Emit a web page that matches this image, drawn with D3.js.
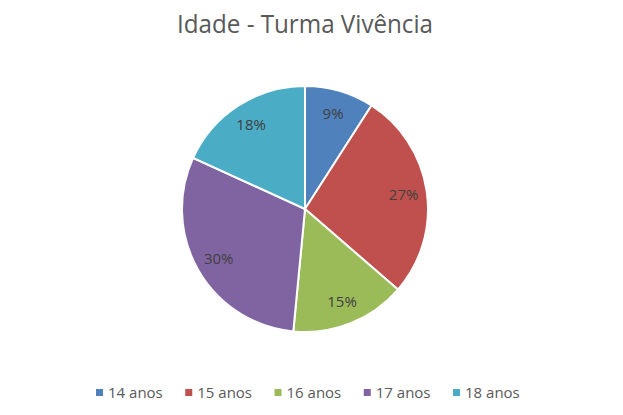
<!DOCTYPE html>
<html>
<head>
<meta charset="utf-8">
<script src="https://cdn.jsdelivr.net/npm/d3@7"></script>
<style>
  body { margin: 0; background: #fff; }
  text { font-family: "Open Sans", "Noto Sans", sans-serif; }
</style>
</head>
<body>
<svg id="chart" width="623" height="415"></svg>
<script>
// Chart data
const categories = ["14 anos", "15 anos", "16 anos", "17 anos", "18 anos"];
const counts = [3, 9, 5, 10, 6];
const colors = ["#4F81BD", "#C0504D", "#9BBB59", "#8064A2", "#4BACC6"];
const title = "Idade - Turma Vivência";

const svg = d3.select("#chart");
const cx = 305, cy = 209, radius = 123;

// Title
svg.append("text")
    .attr("x", 305)
    .attr("y", 33)
    .attr("text-anchor", "middle")
    .attr("font-size", 25)
    .attr("fill", "#595959")
    .attr("textLength", 256)
    .attr("lengthAdjust", "spacingAndGlyphs")
    .text(title);

const total = d3.sum(counts);
const pie = d3.pie().sort(null).value(d => d);
const arcs = pie(counts);
const arc = d3.arc().innerRadius(0).outerRadius(radius);
const labelArc = d3.arc().innerRadius(radius * 0.81).outerRadius(radius * 0.81);

const g = svg.append("g").attr("transform", `translate(${cx},${cy})`);

g.selectAll("path")
    .data(arcs)
    .enter().append("path")
    .attr("d", arc)
    .attr("fill", (d, i) => colors[i])
    .attr("stroke", "#fff")
    .attr("stroke-width", 2);

g.selectAll("text.label")
    .data(arcs)
    .enter().append("text")
    .attr("class", "label")
    .attr("transform", d => `translate(${labelArc.centroid(d)})`)
    .attr("text-anchor", "middle")
    .attr("dy", "0.35em")
    .attr("font-size", 15)
    .attr("fill", "#404040")
    .text(d => Math.round(d.data / total * 100) + "%");

// Legend
const legendX = d3.scalePoint().domain(categories).range([96, 453]);
const legend = svg.append("g").selectAll("g")
    .data(categories)
    .enter().append("g")
    .attr("transform", d => `translate(${legendX(d)},393)`);

legend.append("rect")
    .attr("x", 0)
    .attr("y", -4)
    .attr("width", 7)
    .attr("height", 7)
    .attr("fill", (d, i) => colors[i]);

legend.append("text")
    .attr("x", 12)
    .attr("y", 0)
    .attr("dy", "0.35em")
    .attr("font-size", 15)
    .attr("fill", "#595959")
    .text(d => d);
</script>
</body>
</html>
